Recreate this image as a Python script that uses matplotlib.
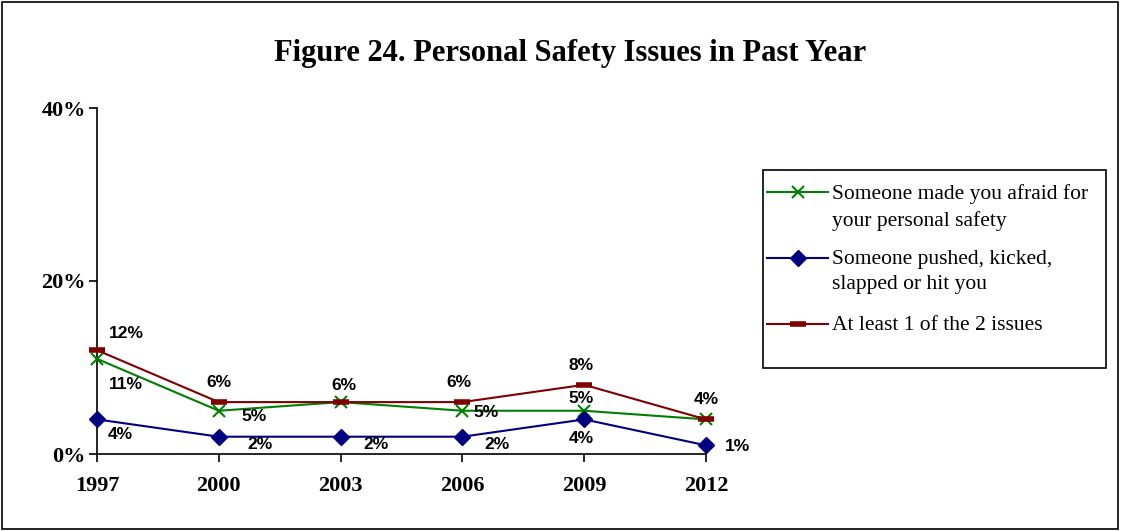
import matplotlib.pyplot as plt
from matplotlib.lines import Line2D
from matplotlib.patches import Rectangle

years = ['1997', '2000', '2003', '2006', '2009', '2012']
afraid = [11, 5, 6, 5, 5, 4]
pushed = [4, 2, 2, 2, 4, 1]
either = [12, 6, 6, 6, 8, 4]

labels = ['Someone made you afraid for\nyour personal safety',
          'Someone pushed, kicked,\nslapped or hit you',
          'At least 1 of the 2 issues']

# label offsets in pixels (None = label hidden behind another one)
afraid_off = [(29, -26), (35, -6), None, (24, -2), (-3, 12), None]
pushed_off = [(23, -15), (41, -8), (35, -8), (35, -8), (-3, -19), (31, -1)]
either_off = [(29, 17), (0, 20), (3, 17), (-3, 20), (-3, 19), (0, 20)]

serif = 'Liberation Serif'
sans = 'Liberation Sans'
W, H = 1121, 531

styles = [dict(color='#008000', lw=1.5, marker='x', ms=9, mew=1.5),
          dict(color='#000080', lw=1.5, marker='D', ms=8),
          dict(color='#800000', lw=1.5, marker='_', ms=11, mew=4)]

fig = plt.figure(figsize=(W / 100, H / 100), dpi=100)
ax = fig.add_axes([97 / W, 1 - 454 / H, 609 / W, 346 / H])

x = range(len(years))
for vals, st, lab in zip([afraid, pushed, either], styles, labels):
    ax.plot(x, vals, label=lab, zorder=3, clip_on=False, **st)

for vals, offs in [(afraid, afraid_off), (pushed, pushed_off), (either, either_off)]:
    for i, (v, o) in enumerate(zip(vals, offs)):
        if o is None:
            continue
        ax.annotate(f'{v}%', (i, v), xytext=o, textcoords='offset pixels',
                    ha='center', va='center', fontsize=12.5, fontweight='bold',
                    family=sans)

ax.set_xlim(0, 5)
ax.set_ylim(0, 40)
ax.set_xticks(list(x))
ax.set_xticklabels(years)
ax.set_yticks([0, 20, 40])
ax.set_yticklabels(['0%', '20%', '40%'])
for lab in ax.get_xticklabels() + ax.get_yticklabels():
    lab.set_fontfamily(serif)
    lab.set_fontweight('bold')
    lab.set_fontsize(16)
ax.tick_params(direction='out', length=6, width=1.2, color='black')
ax.tick_params(axis='x', pad=10)
ax.tick_params(axis='y', pad=2)
for s in ['top', 'right']:
    ax.spines[s].set_visible(False)
for s in ['left', 'bottom']:
    ax.spines[s].set_linewidth(1.2)

fig.text(570 / W, 1 - 54 / H, 'Figure 24. Personal Safety Issues in Past Year',
         ha='center', va='center', fontsize=22, fontweight='bold', family=serif)

# Excel-style legend: handle sits on the first text line of each entry
entry_y = [192, 258, 324]
for yy, st, lab in zip(entry_y, styles, labels):
    fy = 1 - yy / H
    fig.add_artist(Line2D([767 / W, 797.5 / W, 828 / W], [fy, fy, fy],
                          transform=fig.transFigure, markevery=[1], **st))
    fig.text(832 / W, 1 - (yy - 8) / H, lab, ha='left', va='top',
             fontsize=15.5, family=serif, linespacing=1.45)

fig.patches.append(Rectangle((763 / W, 1 - 368 / H), 343 / W, 198 / H,
                             transform=fig.transFigure, fill=False,
                             edgecolor='black', lw=1.2))
# outer chart border
fig.patches.append(Rectangle((0.002, 0.003), 0.995, 0.994, transform=fig.transFigure,
                             fill=False, edgecolor='black', lw=1.2))

fig.savefig('out.png', dpi=100)
